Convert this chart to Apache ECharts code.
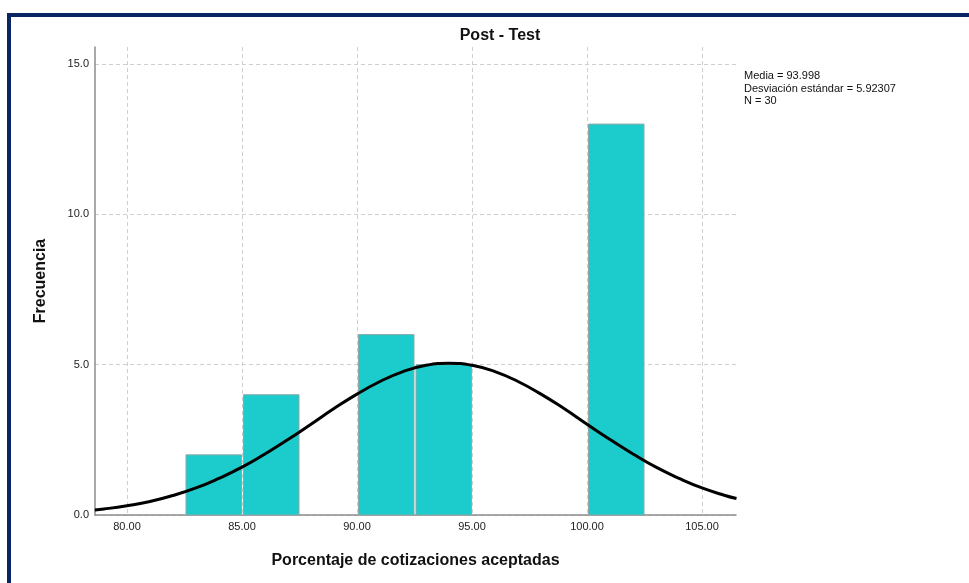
<!DOCTYPE html>
<html>
<head>
<meta charset="utf-8">
<script src="https://cdn.jsdelivr.net/npm/echarts@6/dist/echarts.min.js"></script>
<style>
html,body{margin:0;padding:0;background:#fff;}
#chart{width:969px;height:583px;}
</style>
</head>
<body>
<div id="chart"></div>
<script>
// Histogram bins (Porcentaje de cotizaciones aceptadas)
const binLow  = [82.5, 85.0, 90.0, 92.5, 100.0];
const binHigh = [85.0, 87.5, 92.5, 95.0, 102.5];
const counts  = [2, 4, 6, 5, 13];

// Normal curve
const curveX = [78.6, 79, 80, 81, 82, 83, 84, 85, 86, 87, 88, 89, 90, 91, 92, 93, 94, 95, 96, 97, 98, 99, 100, 101, 102, 103, 104, 105, 106, 106.5];
const curveY = [0.17, 0.20, 0.31, 0.45, 0.65, 0.90, 1.22, 1.59, 2.03, 2.51, 3.02, 3.54, 4.02, 4.44, 4.77, 4.98, 5.05, 4.98, 4.77, 4.44, 4.02, 3.54, 3.02, 2.51, 2.03, 1.59, 1.22, 0.90, 0.65, 0.55];

const xTicks = [80, 85, 90, 95, 100, 105];
const yTicks = [0, 5, 10, 15];

const title = 'Post - Test';
const xName = 'Porcentaje de cotizaciones aceptadas';
const yName = 'Frecuencia';
const statsText = ['Media = 93.998', 'Desviación estándar = 5.92307', 'N = 30'];

const FONT = '"Liberation Sans", Arial, sans-serif';
const chart = echarts.init(document.getElementById('chart'), null, {renderer: 'canvas'});

const barData = binLow.map((lo, i) => [lo, binHigh[i], counts[i]]);
const lineData = curveX.map((x, i) => [x, curveY[i]]);

const option = {
  animation: false,
  textStyle: {fontFamily: FONT},
  title: {
    text: title, left: 495, top: 23, textAlign: 'center',
    textStyle: {fontFamily: FONT, fontSize: 16, fontWeight: 'bold', color: '#111'}
  },
  grid: {left: 95, top: 47, width: 641, height: 468, containLabel: false},
  xAxis: {
    type: 'value', min: 78.609, max: 106.478,
    name: xName, nameLocation: 'middle', nameGap: 38,
    nameTextStyle: {fontFamily: FONT, fontSize: 16, fontWeight: 'bold', color: '#111'},
    axisLine: {show: true, lineStyle: {color: '#8c8c8c', width: 1.5}},
    axisTick: {show: false, customValues: xTicks},
    axisLabel: {customValues: xTicks, margin: 6, fontFamily: FONT, fontSize: 11, color: '#222',
      formatter: v => Number(v).toFixed(2)},
    splitLine: {show: true, lineStyle: {color: '#cfcfcf', type: [4, 3], width: 1}}
  },
  yAxis: {
    type: 'value', min: 0, max: 15.565,
    name: yName, nameLocation: 'middle', nameGap: 46, nameRotate: 90,
    nameTextStyle: {fontFamily: FONT, fontSize: 16, fontWeight: 'bold', color: '#111'},
    axisLine: {show: true, lineStyle: {color: '#8c8c8c', width: 1.5}},
    axisTick: {show: false, customValues: yTicks},
    axisLabel: {customValues: yTicks, margin: 6, fontFamily: FONT, fontSize: 11, color: '#222',
      formatter: v => Number(v).toFixed(1)},
    splitLine: {show: true, lineStyle: {color: '#cfcfcf', type: [4, 3], width: 1}}
  },
  series: [
    {
      type: 'custom',
      data: barData,
      encode: {x: [0, 1], y: 2},
      z: 2,
      renderItem: function (params, api) {
        const p0 = api.coord([api.value(0), api.value(2)]);
        const p1 = api.coord([api.value(1), 0]);
        return {
          type: 'rect',
          shape: {x: p0[0] + 1.5, y: p0[1], width: p1[0] - p0[0] - 2, height: p1[1] - p0[1]},
          style: {fill: '#1ccccc', stroke: '#8fa8a8', lineWidth: 1}
        };
      }
    },
    {
      type: 'line',
      data: lineData,
      smooth: true,
      showSymbol: false,
      symbol: 'none',
      z: 5,
      clip: true,
      lineStyle: {color: '#000', width: 3}
    }
  ],
  graphic: [
    {type: 'text', left: 744, top: 70, z: 10,
      style: {text: statsText.join('\n'), font: '11px ' + FONT, fill: '#111', lineHeight: 12.5}},
    {type: 'rect', left: 7, top: 13, z: 20, shape: {width: 962, height: 4}, style: {fill: '#0b2463'}},
    {type: 'rect', left: 7, top: 13, z: 20, shape: {width: 4, height: 570}, style: {fill: '#0b2463'}}
  ]
};
chart.setOption(option);
</script>
</body>
</html>
